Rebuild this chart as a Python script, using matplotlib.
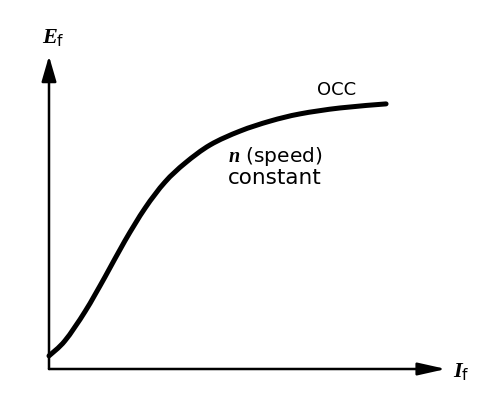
import matplotlib
matplotlib.use("Agg")
import matplotlib.pyplot as plt
from matplotlib.path import Path
from matplotlib.patches import PathPatch

# Open-circuit characteristic (arbitrary units)
field_current = [0.0, 4.0, 9.1, 14.1, 19.1, 24.2, 29.2, 34.3, 40.6, 48.1,
                 55.7, 63.2, 73.3, 84.9]
emf = [4.2, 9.0, 18.4, 29.4, 40.9, 51.4, 59.7, 65.8, 71.6, 76.0,
       79.2, 81.5, 83.4, 84.7]

curve_label = "OCC"
speed_label = r"$n$ (speed)"
const_label = "constant"
y_label = r"$E_{\mathrm{f}}$"
x_label = r"$I_{\mathrm{f}}$"

plt.rcParams['mathtext.fontset'] = 'custom'
plt.rcParams['mathtext.it'] = 'Liberation Serif:italic:bold'
plt.rcParams['mathtext.rm'] = 'DejaVu Sans'
plt.rcParams['mathtext.bf'] = 'Liberation Serif:bold'

W, H = 502, 406
fig = plt.figure(figsize=(W / 100, H / 100), dpi=100)
ax = fig.add_axes([49 / W, 36 / H, 397 / W, 313 / H])
ax.set_xlim(0, 100)
ax.set_ylim(0, 100)
ax.axis('off')

# axes with arrows
ax.annotate('', xy=(100, 0), xytext=(0, 0), annotation_clip=False,
            arrowprops=dict(arrowstyle='-|>,head_length=1.7,head_width=0.38',
                            lw=1.8, color='black', shrinkA=0, shrinkB=0))
ax.annotate('', xy=(0, 100), xytext=(0, 0), annotation_clip=False,
            arrowprops=dict(arrowstyle='-|>,head_length=1.55,head_width=0.45',
                            lw=1.8, color='black', shrinkA=0, shrinkB=0))


def smooth_path(xs, ys):
    """Catmull-Rom spline through the read points, drawn as cubic Beziers."""
    pts = list(zip(xs, ys))
    verts = [pts[0]]
    codes = [Path.MOVETO]
    n = len(pts)
    for i in range(n - 1):
        p0 = pts[i - 1] if i > 0 else pts[i]
        p1 = pts[i]
        p2 = pts[i + 1]
        p3 = pts[i + 2] if i + 2 < n else pts[i + 1]
        c1 = (p1[0] + (p2[0] - p0[0]) / 6, p1[1] + (p2[1] - p0[1]) / 6)
        c2 = (p2[0] - (p3[0] - p1[0]) / 6, p2[1] - (p3[1] - p1[1]) / 6)
        verts += [c1, c2, p2]
        codes += [Path.CURVE4] * 3
    return Path(verts, codes)


ax.add_patch(PathPatch(smooth_path(field_current, emf), facecolor='none',
                       edgecolor='black', lw=3.6, capstyle='round',
                       joinstyle='round', clip_on=False))

ax.text(72.5, 87.9, curve_label, ha='center', va='baseline', fontsize=13,
        family='DejaVu Sans')
ax.text(45.1, 66.5, speed_label, ha='left', va='baseline', fontsize=14.5,
        family='DejaVu Sans')
ax.text(45.1, 59.4, const_label, ha='left', va='baseline', fontsize=15.5,
        family='DejaVu Sans')
ax.text(-1.8, 104.5, y_label, ha='left', va='baseline', fontsize=16,
        clip_on=False)
ax.text(101.8, -2.2, x_label, ha='left', va='baseline', fontsize=16,
        clip_on=False)

fig.savefig('out.png', dpi=100, facecolor='white')
